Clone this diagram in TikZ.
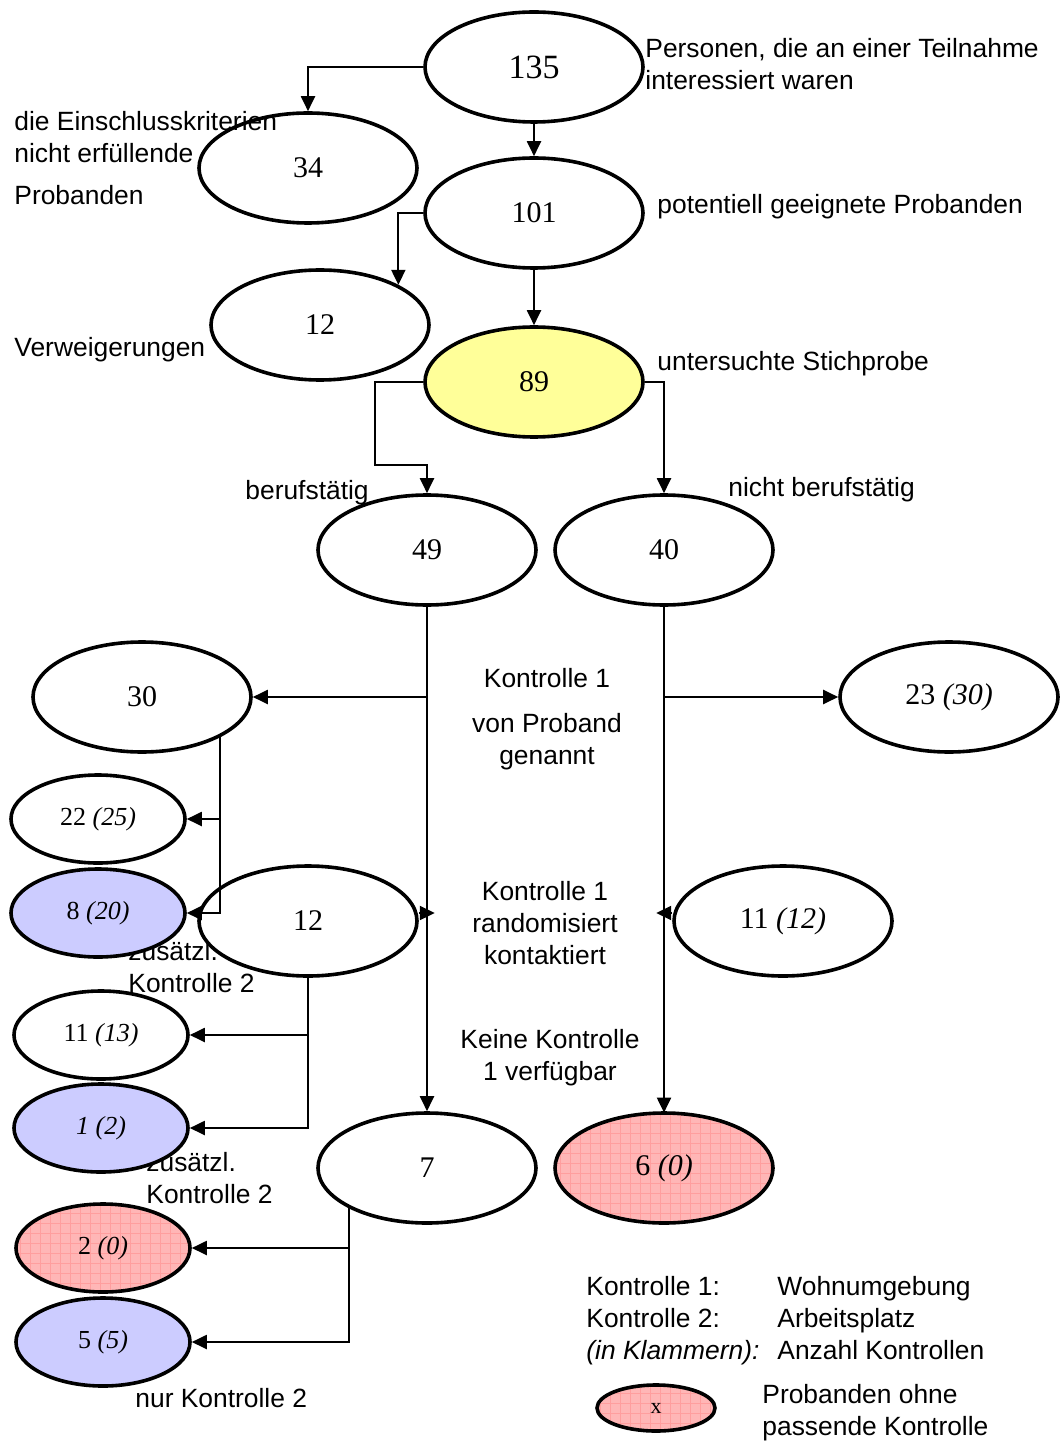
\documentclass[tikz,border=0pt]{standalone}
\usepackage{fontspec}
\setmainfont{Liberation Serif}
\setsansfont{Liberation Sans}
\usepackage{tikz}
\usetikzlibrary{arrows.meta,shapes.geometric,patterns.meta}
\definecolor{samplebg}{HTML}{FFFF99}
\definecolor{extrabg}{HTML}{CCCCFF}
\definecolor{nomatchbg}{HTML}{FFB6B6}
\definecolor{gridpink}{HTML}{FF9E9E}
\newcommand{\lblfont}{\sffamily\fontsize{13.2pt}{16pt}\selectfont}

\begin{document}
\begin{tikzpicture}[x=0.5pt,y=-0.5pt,
  oval/.style={ellipse,draw,fill=white,line width=1.8pt,minimum width=109pt,
               minimum height=55pt,inner sep=0pt,font=\fontsize{15pt}{18pt}\selectfont},
  small/.style={oval,minimum width=87pt,minimum height=44pt,font=\fontsize{13pt}{16pt}\selectfont},
  sample/.style={fill=samplebg},
  extra/.style={fill=extrabg},
  nomatch/.style={preaction={fill=nomatchbg},
                  pattern={Hatch[distance=5pt,angle=0,line width=0.35pt]},pattern color=gridpink},
  lbl/.style={font=\lblfont,inner sep=0pt,align=left},
  w/.style={-{Triangle[length=7.5pt,width=7pt]},line width=1pt}]

  \useasboundingbox (0,0) rectangle (1060,1443);

  % labels hidden behind the ovals
  \node[lbl,anchor=west] (lz1) at (128,967) {zusätzl.\\Kontrolle 2};
  \node[lbl,anchor=west] (lz2) at (146,1178) {zusätzl.\\Kontrolle 2};

  % recruitment
  \node[oval,font=\fontsize{17pt}{20pt}\selectfont] (n135) at (534,67) {135};
  \node[oval] (n34)  at (308,168) {34};
  \node[oval] (n101) at (534,213) {101};
  \node[oval] (n12a) at (320,325) {12};
  \node[oval,sample] (n89) at (534,382) {89};

  % split by employment
  \node[oval] (n49) at (427,550) {49};
  \node[oval] (n40) at (664,550) {40};

  % control 1 named by subject
  \node[oval]  (n30) at (142,697) {30};
  \node[oval]  (n23) at (949,697) {23 \textit{(30)}};
  \node[small] (n22) at (98,819) {22 \textit{(25)}};
  \node[small,extra] (n8) at (98,913) {8 \textit{(20)}};

  % control 1 randomised
  \node[oval]  (n12b) at (308,921) {12};
  \node[oval]  (n11r) at (783,921) {11 \textit{(12)}};
  \node[small] (n11l) at (101,1035) {11 \textit{(13)}};
  \node[small,extra] (n1) at (101,1128) {\textit{1 (2)}};

  % no control 1
  \node[oval] (n7) at (427,1168) {7};
  \node[oval,nomatch] (n6) at (664,1168) {6 \textit{(0)}};
  \node[small,nomatch] (n2) at (103,1248) {2 \textit{(0)}};
  \node[small,extra] (n5) at (103,1342) {5 \textit{(5)}};

  % connectors
  \draw[w] (n135.west) -| (n34.north);
  \draw[w] (n135) -- (n101);
  \draw[w] (n101.west) -| (n12a.north east);
  \draw[w] (n101) -- (n89);
  \draw[w] (n89.west) -| ++(-48,83) -| (n49.north);
  \draw[w] (n89.east) -| (n40.north);

  \draw[w] (n49.south) -- (n7.north);
  \draw[w] (n49.south |- n30) -- (n30.east);
  \draw[w] ([yshift=4pt]n12b.east) -- ++(16,0);
  \draw[w] (n40.south) -- (n6.north);
  \draw[w] (n40.south |- n23) -- (n23.west);
  \draw[w] ([yshift=4pt]n11r.west) -- ++(-16,0);

  \draw[w] (n30.south east) |- (n8.east);
  \draw[w] (n30.south east |- n22) -- (n22.east);
  \draw[w] (n12b.south) |- (n1.east);
  \draw[w] (n12b.south |- n11l) -- (n11l.east);
  \draw[w] (n7.south west) |- (n5.east);
  \draw[w] (n7.south west |- n2) -- (n2.east);

  % labels
  \node[lbl,anchor=west] (lpers) at (645,64) {Personen, die an einer Teilnahme\\interessiert waren};
  \node[lbl,anchor=west] (lein) at (14,158) {die Einschlusskriterien\\nicht erfüllende\\[5pt]Probanden};
  \node[lbl,anchor=base west] (lpot) at (657,214) {potentiell geeignete Probanden};
  \node[lbl,anchor=base west] (lverw) at (14,357) {Verweigerungen};
  \node[lbl,anchor=base west] (lstich) at (657,371) {untersuchte Stichprobe};
  \node[lbl,anchor=base west] (lberuf) at (245,499) {berufstätig};
  \node[lbl,anchor=base west] (lnberuf) at (728,496) {nicht berufstätig};
  \node[lbl,align=center] (lk1) at (547,678) {Kontrolle 1};
  \node[lbl,align=center] (lgen) at (547,742) {von Proband\\genannt};
  \node[lbl,align=center] (lrand) at (545,923) {Kontrolle 1\\randomisiert\\kontaktiert};
  \node[lbl,align=center] (lkeine) at (550,1058) {Keine Kontrolle\\1 verfügbar};
  \node[lbl,anchor=base west] (lnur) at (135,1407) {nur Kontrolle 2};

  % legend
  \node[lbl,anchor=base west] (lk1a) at (586,1295) {Kontrolle 1:};
  \node[lbl,anchor=base west] (lk2a) at (586,1327) {Kontrolle 2:};
  \node[lbl,anchor=base west] (lkla) at (586,1359) {\textit{(in Klammern):}};
  \node[lbl,anchor=base west] (lk1b) at (777,1295) {Wohnumgebung};
  \node[lbl,anchor=base west] (lk2b) at (777,1327) {Arbeitsplatz};
  \node[lbl,anchor=base west] (lklb) at (777,1359) {Anzahl Kontrollen};
  \node[oval,nomatch,minimum width=59pt,minimum height=23pt,font=\fontsize{11pt}{13pt}\selectfont] (nx) at (656,1408) {x};
  \node[lbl,anchor=west] (lohne) at (762,1413) {Probanden ohne\\passende Kontrolle};
\end{tikzpicture}
\end{document}
